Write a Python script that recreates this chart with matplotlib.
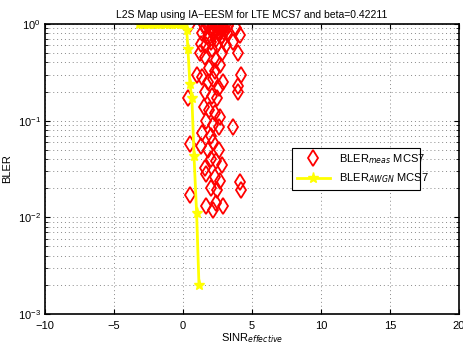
import numpy as np
import matplotlib
matplotlib.use("Agg")
import matplotlib.pyplot as plt
from matplotlib.ticker import LogLocator, NullFormatter

plt.rcParams['font.family'] = ['Liberation Sans', 'DejaVu Sans']

# measured BLER vs effective SINR (dB)
meas_sinr = [0.5, 1.5, 1.9, 2.1, 2.3, 2.5, 2.7, 2.9, 3.1, 2.4, 2.0, 2.8,
             1.6, 1.8, 2.2, 2.6, 3.0, 3.3, 3.2, 2.4, 1.7, 2.8, 3.1,
             3.84, 4.13, 3.62, 3.99, 4.2, 4.0, 4.0,
             1.4, 1.8, 2.2, 2.6, 3.0, 1.3, 2.0, 2.5, 2.9,
             1.2, 1.6, 2.1, 2.4, 2.8, 1.9, 2.3, 2.7, 1.0,
             1.4, 1.8, 2.2, 2.6, 2.9, 1.6, 2.1, 2.5, 0.35,
             1.5, 1.9, 2.3, 2.7, 1.7, 2.2, 2.6, 3.6, 1.4, 2.0,
             0.5, 1.3, 1.8, 2.2, 2.6, 2.0, 2.4, 2.8, 1.6,
             0.5, 1.7, 2.3, 2.7, 2.0, 2.5, 4.1, 4.2, 1.7, 2.4, 2.9, 2.2]
meas_bler = [1.0, 0.98, 1.0, 0.95, 1.0, 0.97, 1.0, 0.95, 1.0, 0.9, 0.88, 0.9,
             0.9, 0.97, 0.85, 0.92, 0.9, 0.95, 0.8, 0.7, 0.6, 0.75, 0.6,
             0.91, 0.77, 0.65, 0.5, 0.3, 0.23, 0.2,
             0.8, 0.75, 0.8, 0.78, 0.82, 0.62, 0.65, 0.6, 0.68,
             0.5, 0.45, 0.55, 0.42, 0.5, 0.35, 0.33, 0.38, 0.3,
             0.28, 0.25, 0.27, 0.22, 0.25, 0.2, 0.18, 0.17, 0.17,
             0.14, 0.13, 0.12, 0.11, 0.1, 0.09, 0.085, 0.086, 0.075, 0.07,
             0.057, 0.055, 0.05, 0.06, 0.05, 0.04, 0.038, 0.035, 0.032,
             0.017, 0.028, 0.026, 0.024, 0.02, 0.019, 0.023, 0.019, 0.013, 0.014, 0.013, 0.012]

# AWGN reference curve
awgn_sinr = [-3.2, -3.0, -2.8, -2.6, -2.4, -2.2, -2.0, -1.8, -1.6, -1.4, -1.2, -1.0, -0.8,
             -0.6, -0.4, -0.2, 0.0, 0.1, 0.27, 0.36, 0.5, 0.65, 0.8, 0.99, 1.16]
awgn_bler = [1.0, 1.0, 1.0, 1.0, 1.0, 1.0, 1.0, 1.0, 1.0, 1.0, 1.0, 1.0, 1.0,
             1.0, 1.0, 1.0, 1.0, 1.0, 0.87, 0.55, 0.24, 0.17, 0.043, 0.011, 0.002]

fig = plt.figure(figsize=(4.64, 3.47), dpi=100)
ax = fig.add_axes([0.097, 0.095, 0.892, 0.836])

ax.semilogy(meas_sinr, meas_bler, 'd', color='red', mfc='none', mew=1.3, ms=8.5,
            label='BLER$_{meas}$ MCS7')
ax.semilogy(awgn_sinr, awgn_bler, '-*', color='yellow', lw=2, ms=8,
            label='BLER$_{AWGN}$ MCS7')

ax.set_xlim(-10, 20)
ax.set_ylim(1e-3, 1)
ax.set_xticks([-10, -5, 0, 5, 10, 15, 20])
ax.set_xticklabels(['\u221210', '\u22125', '0', '5', '10', '15', '20'])
ax.yaxis.set_major_locator(LogLocator(base=10))
ax.yaxis.set_minor_locator(LogLocator(base=10, subs=np.arange(2, 10)))
ax.yaxis.set_minor_formatter(NullFormatter())

dots = (0, (1, 3))
ax.grid(True, which='major', axis='both', linestyle=dots, color='#888888', lw=0.7)
ax.grid(True, which='minor', axis='y', linestyle=dots, color='#888888', lw=0.7)
ax.tick_params(which='both', direction='in', top=True, right=True, labelsize=8, pad=3)
ax.tick_params(axis='x', pad=5)
for s in ax.spines.values():
    s.set_linewidth(1.2)

ax.set_title('L2S Map using IA\u2212EESM for LTE MCS7 and beta=0.42211', fontsize=7.5, pad=4)
ax.set_xlabel('SINR$_{effective}$', fontsize=8, labelpad=0)
ax.set_ylabel('BLER', fontsize=8, labelpad=4)

leg = ax.legend(loc='lower left', bbox_to_anchor=(0.597, 0.428, 0.31, 0.152),
                mode='expand', fontsize=8, fancybox=False, edgecolor='black',
                framealpha=1, borderaxespad=0, handlelength=3)
leg.get_frame().set_linewidth(0.8)

fig.savefig('out.png', dpi=100)
